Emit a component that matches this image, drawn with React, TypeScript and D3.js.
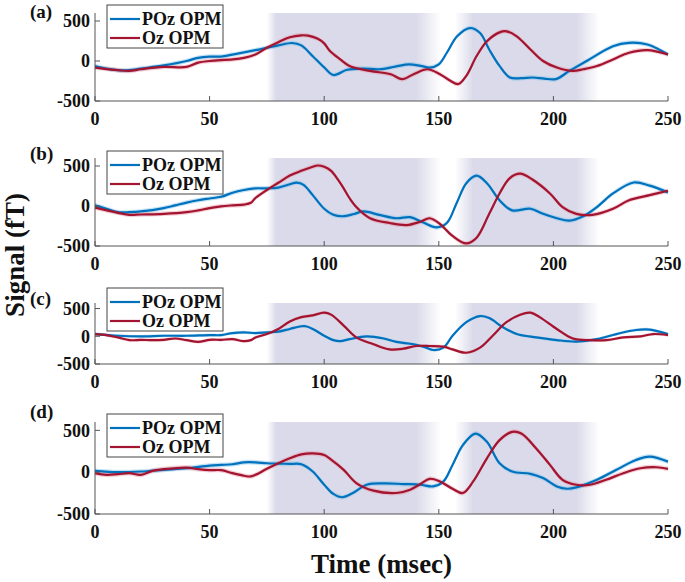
import React from 'react';
import * as d3 from 'd3';

// ---- data (time in msec, signal in fT) ----
const X_TICKS = [0, 50, 100, 150, 200, 250];
const Y_TICKS = [-500, 0, 500];
const X_DOMAIN: [number, number] = [0, 250];
const Y_DOMAIN: [number, number] = [-500, 600];
const PANEL_LABELS = ['(a)', '(b)', '(c)', '(d)'];
const SERIES_NAMES = ['POz OPM', 'Oz OPM'];
// shaded windows: [fade-in start, full start, full end, fade-out end]
const WINDOWS = [
  [75, 79, 140, 151],
  [157, 165, 210, 220],
];

const aPOz: [number, number][] = [
  [0, -62], [5, -95], [10, -115], [15, -115], [20, -95], [30, -55], [40, 0], [45, 40], [50, 55], [55, 55],
  [60, 80], [70, 135], [75, 165], [80, 195], [86, 225], [90, 195], [95, 60], [100, -80], [104, -175],
  [110, -110], [117, -95], [124, -103], [131, -70], [137, -41], [142, -60], [146, -82], [150, -41],
  [153.5, 103], [158, 309], [163.5, 412], [168, 350], [172, 144], [176.5, -62], [181, -206], [186, -215],
  [191, -206], [196, -220], [201, -227], [207, -124], [214.5, 0], [226, 185], [233, 227], [241, 206], [250, 82],
];
const aOz: [number, number][] = [
  [0, -82], [10, -115], [15, -124], [20, -103], [30, -74], [40, -74], [45, -20], [50, 0], [60, 20], [65, 40],
  [70, 82], [75, 165], [80, 235], [85, 297], [90, 321], [93, 317], [97, 280], [100, 220], [102.5, 124],
  [107, 20], [111, -62], [120, -124], [129, -165], [134, -227], [139, -165], [145, -103], [150.5, -165],
  [155, -247], [158.5, -288], [162, -185], [166.5, 62], [171, 247], [176.5, 358], [179.5, 371], [184, 309],
  [190, 144], [195.5, 0], [201.5, -82], [208.5, -124], [213, -103], [219, -62], [226, 20], [233, 103],
  [241, 136], [250, 82],
];
const bPOz: [number, number][] = [
  [0, 8], [5, -34], [10, -77], [15, -77], [20, -68], [30, -26], [35, 8], [40, 43], [45, 72], [50, 94],
  [55, 115], [60, 166], [65, 200], [70, 221], [75, 221], [80, 230], [85, 272], [88, 293], [91, 265],
  [95, 136], [100, -34], [104, -110], [108, -128], [113, -100], [117, -68], [124, -110], [131.5, -153],
  [137.5, -140], [143, -204], [149, -268], [153.5, -213], [158, 51], [162, 285], [166.5, 379], [171, 285],
  [176.5, 72], [182, -55], [190, -34], [195.5, -98], [201.5, -153], [207, -183], [213, -128], [219, -13],
  [226, 157], [235, 294], [242, 255], [250, 170],
];
const bOz: [number, number][] = [
  [0, -21], [10, -85], [15, -110], [20, -106], [30, -98], [40, -77], [45, -55], [50, -26], [55, -4],
  [60, 8], [65, 17], [68, 40], [70, 100], [75, 200], [80, 290], [85, 380], [90, 440], [95, 490], [97, 506],
  [100, 490], [103, 440], [106, 330], [108.5, 221], [111, 100], [114, -13], [120, -153], [128.5, -213],
  [136, -238], [142, -196], [146, -153], [150.5, -225], [156, -374], [162, -468], [166.5, -396], [172, -98],
  [176.5, 157], [181, 349], [185.5, 404], [191, 328], [198.5, 157], [204, -13], [210, -98], [217, -110],
  [226, -34], [233, 72], [242, 136], [250, 191],
];
const cPOz: [number, number][] = [
  [0, 40], [10, 9], [20, -3], [30, 9], [40, 9], [50, 21], [55, 21], [60, 58], [65, 70], [70, 58], [75, 70],
  [80, 83], [85, 132], [90, 181], [92, 181], [95, 132], [100, 9], [104, -70], [107, -89], [111, -52],
  [118.5, -3], [126, -40], [131.5, -101], [139, -144], [144.5, -205], [147.5, -248], [152, -205], [156, 9],
  [162, 254], [168, 365], [172, 328], [178, 162], [184, 40], [192.5, -21], [201.5, -70], [210, -95],
  [219, -52], [227.5, 40], [236, 113], [242, 120], [250, 40],
];
const cOz: [number, number][] = [
  [0, 40], [5, 21], [10, -21], [15, -70], [20, -64], [25, -70], [30, -64], [35, -40], [40, -70], [45, -101],
  [50, -64], [55, -64], [60, -52], [65, -89], [68, -70], [70, -21], [75, 40], [80, 132], [85, 267], [90, 346],
  [95, 377], [100, 426], [103, 390], [108.5, 193], [114, -21], [121.5, -144], [128.5, -236], [134.5, -224],
  [140, -175], [146, -175], [152, -187], [156, -236], [162, -297], [168, -205], [173.5, 9], [179.5, 254],
  [185.5, 389], [190, 426], [194, 346], [201.5, 132], [208.5, -40], [216, -70], [223, -70], [230.5, -21],
  [238, -3], [243.5, 40], [250, 21],
];
const dPOz: [number, number][] = [
  [0, 16], [10, 0], [20, 8], [30, 28], [40, 47], [50, 79], [55, 87], [60, 95], [65, 118], [70, 118], [75, 107],
  [80, 103], [85, 99], [90, 95], [95, 8], [100, -150], [104, -260], [108, -300], [112.5, -249], [118.5, -150],
  [126, -134], [134.5, -142], [142, -150], [147.5, -170], [152, -111], [156, 87], [160.5, 324], [166, 462],
  [171, 363], [176.5, 107], [182, 8], [190, -20], [195.5, -71], [201.5, -170], [206, -198], [210, -182],
  [219, -91], [227.5, 28], [236, 146], [242, 186], [250, 126],
];
const dOz: [number, number][] = [
  [0, -12], [5, -32], [10, -24], [15, -12], [20, -32], [25, 16], [30, 36], [40, 55], [45, 36], [50, 24],
  [55, 24], [60, -12], [65, -43], [68, -51], [70, -32], [75, 40], [80, 107], [85, 166], [90, 213], [95, 225],
  [100, 205], [103, 150], [108.5, 28], [114, -130], [121.5, -221], [131.5, -249], [137.5, -209], [142, -142],
  [146, -79], [150.5, -111], [156, -198], [160.5, -249], [165, -111], [171, 166], [176.5, 383], [182, 482],
  [186, 462], [192.5, 284], [198.5, 87], [204, -91], [210, -150], [216, -150], [223, -91], [230.5, -12],
  [238, 47], [245, 59], [250, 39],
];
const PANEL_DATA = [
  [aPOz, aOz],
  [bPOz, bOz],
  [cPOz, cOz],
  [dPOz, dOz],
];
const BAND_HALF = 28; // fT, standard-error band half width

// ---- layout / style ----
const W = 685;
const H = 582;
const X0 = 95;
const X1 = 668;
const PANELS = [
  { top: 13, bottom: 101, legendTop: 5, labelY: 18 },
  { top: 158, bottom: 246, legendTop: 151, labelY: 160 },
  { top: 303, bottom: 364, legendTop: 288, labelY: 305 },
  { top: 422, bottom: 514, legendTop: 414, labelY: 418 },
];
const LINE_COLORS = ['#0072BD', '#A2142F'];
const BAND_COLORS = ['#7cc0ea', '#e8909f'];
const SHADE = '#dadaea';
const AXIS = '#555';
const FONT = '"Liberation Serif", "Times New Roman", serif';

const x = d3.scaleLinear().domain(X_DOMAIN).range([X0, X1]);

function Panel({ idx }: { idx: number }) {
  const p = PANELS[idx];
  const y = d3.scaleLinear().domain(Y_DOMAIN).range([p.bottom, p.top]);
  const line = d3
    .line<[number, number]>()
    .x((d) => x(d[0]))
    .y((d) => y(d[1]))
    .curve(d3.curveCatmullRom.alpha(0.5));
  const area = d3
    .area<[number, number]>()
    .x((d) => x(d[0]))
    .y0((d) => y(d[1] - BAND_HALF))
    .y1((d) => y(d[1] + BAND_HALF))
    .curve(d3.curveCatmullRom.alpha(0.5));
  const gx0 = x(WINDOWS[0][0]);
  const gx1 = x(WINDOWS[WINDOWS.length - 1][3]);
  const off = (t: number) => (x(t) - gx0) / (gx1 - gx0);
  const gid = `shade${idx}`;
  const series = PANEL_DATA[idx];
  return (
    <g>
      <defs>
        <linearGradient id={gid} gradientUnits="userSpaceOnUse" x1={gx0} x2={gx1} y1={0} y2={0}>
          {WINDOWS.map((w, i) => (
            <React.Fragment key={i}>
              <stop offset={off(w[0])} stopColor={SHADE} stopOpacity={0} />
              <stop offset={off(w[1])} stopColor={SHADE} stopOpacity={1} />
              <stop offset={off(w[2])} stopColor={SHADE} stopOpacity={1} />
              <stop offset={off(w[3])} stopColor={SHADE} stopOpacity={0} />
            </React.Fragment>
          ))}
        </linearGradient>
      </defs>
      <rect x={gx0} y={p.top} width={gx1 - gx0} height={p.bottom - p.top} fill={`url(#${gid})`} />
      {series.map((s, i) => (
        <path key={'b' + i} d={area(s) || ''} fill={BAND_COLORS[i]} opacity={0.45} />
      ))}
      {series.map((s, i) => (
        <path key={'l' + i} d={line(s) || ''} fill="none" stroke={LINE_COLORS[i]} strokeWidth={2.2} />
      ))}
      {/* axes */}
      <line x1={X0} x2={X0} y1={p.top} y2={p.bottom} stroke={AXIS} strokeWidth={1} />
      <line x1={X0} x2={X1} y1={p.bottom} y2={p.bottom} stroke={AXIS} strokeWidth={1} />
      {X_TICKS.map((t) => (
        <g key={'x' + t}>
          <line x1={x(t)} x2={x(t)} y1={p.bottom} y2={p.bottom - 5} stroke={AXIS} />
          <text x={x(t)} y={p.bottom + 24} textAnchor="middle" fontSize={18} fontWeight="bold" fontFamily={FONT} fill="#111">
            {t}
          </text>
        </g>
      ))}
      {Y_TICKS.map((t) => (
        <g key={'y' + t}>
          <line x1={X0} x2={X0 + 5} y1={y(t)} y2={y(t)} stroke={AXIS} />
          <text x={X0 - 5} y={y(t)} dy="0.35em" textAnchor="end" fontSize={18} fontWeight="bold" fontFamily={FONT} fill="#111">
            {t}
          </text>
        </g>
      ))}
      <text x={30} y={p.labelY} fontSize={19} fontWeight="bold" fontFamily={FONT} fill="#111">
        {PANEL_LABELS[idx]}
      </text>
      {/* legend */}
      <rect x={107} y={p.legendTop} width={116} height={43} fill="#fff" stroke="#444" strokeWidth={1} />
      {SERIES_NAMES.map((n, i) => (
        <g key={n}>
          <line x1={110} x2={140} y1={p.legendTop + 14 + i * 19} y2={p.legendTop + 14 + i * 19} stroke={LINE_COLORS[i]} strokeWidth={2.2} />
          <text x={142} y={p.legendTop + 20 + i * 19} fontSize={18} fontWeight="bold" fontFamily={FONT} fill="#111">
            {n}
          </text>
        </g>
      ))}
    </g>
  );
}

export default function App() {
  return (
    <svg width={W} height={H} style={{ position: 'absolute', left: 0, top: 0, background: '#fff' }}>
      {PANELS.map((_, i) => (
        <Panel key={i} idx={i} />
      ))}
      <text
        transform={`translate(${24},${255}) rotate(-90)`}
        textAnchor="middle"
        fontSize={27}
        fontWeight="bold"
        fontFamily={FONT}
        fill="#111"
      >
        Signal (fT)
      </text>
      <text x={(X0 + X1) / 2} y={573} textAnchor="middle" fontSize={27} fontWeight="bold" fontFamily={FONT} fill="#111">
        Time (msec)
      </text>
    </svg>
  );
}
